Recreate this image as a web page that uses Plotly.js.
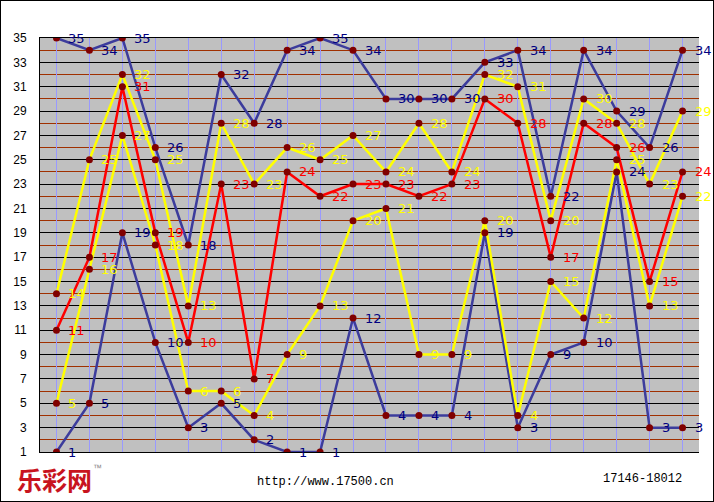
<!DOCTYPE html>
<html><head><meta charset="utf-8">
<script src="https://cdn.plot.ly/plotly-3.0.1.min.js"></script>
<style>
html,body{margin:0;padding:0;background:#fff;}
#wrap{position:absolute;left:0;top:0;width:714px;height:502px;box-sizing:border-box;border:1px solid #000;background:#fff;}
#chart{width:712px;height:500px;}
</style></head>
<body><div id="wrap"><div id="chart"></div></div>
<script>
// draw index (20 consecutive draws)
const draws = [1,2,3,4,5,6,7,8,9,10,11,12,13,14,15,16,17,18,19,20];
// sorted numbers per draw
const n1 = [1,5,19,10,3,5,2,1,1,12,4,4,4,19,3,9,10,24,3,3];          // lowest (blue)
const n2 = [5,16,27,18,6,6,4,9,13,20,21,9,9,20,4,15,12,25,13,22];      // 2nd (yellow)
const n3 = [11,17,31,19,10,23,7,24,22,23,23,22,23,30,28,17,28,26,15,24]; // 3rd (red)
const n4 = [14,25,32,25,13,28,23,26,25,27,24,28,24,32,31,20,30,28,23,29]; // 4th (yellow)
const n5 = [35,34,35,26,18,32,28,34,35,34,30,30,30,33,34,22,34,29,26,34]; // highest (blue)
const yTicks = [1,3,5,7,9,11,13,15,17,19,21,23,25,27,29,31,33,35];
const siteText = "http://www.17500.cn";
const rangeText = "17146-18012";
const logoText = "乐彩网";

const series = [
  {y:n1, line:'#3c3c9c', w:2.5, label:'#000080'},
  {y:n5, line:'#3c3c9c', w:2.5, label:'#000080'},
  {y:n2, line:'#ffff00', w:2.5, label:'#ffff00'},
  {y:n4, line:'#ffff00', w:2.5, label:'#ffff00'},
  {y:n3, line:'#ff0000', w:2.5, label:'#ff0000'}
];

const traces = series.map(s => ({
  x: draws, y: s.y, type:'scatter', mode:'lines',
  line:{color:s.line, width:s.w}, hoverinfo:'skip', showlegend:false
}));
series.forEach(s => traces.push({
  x: draws, y: s.y, type:'scatter', mode:'markers',
  marker:{color:'#800000', size:7}, hoverinfo:'skip', showlegend:false
}));

const annotations = [];
series.forEach(s => {
  s.y.forEach((v,i) => annotations.push({
    x: draws[i], y: v, xref:'x', yref:'y', text: String(v), showarrow:false,
    xanchor:'left', yanchor:'middle', xshift:10, yshift:0,
    font:{family:'DejaVu Sans, Verdana, sans-serif', size:13, color:s.label}
  }));
});
const L=40, R=698, T=38, B=451;
const px = v => (v - L)/(R - L);
const py = v => (B - v)/(B - T);
annotations.push({xref:'paper', yref:'paper', x:px(54), y:py(478), text:'<b>'+logoText+'</b>', showarrow:false,
  xanchor:'center', yanchor:'middle', font:{family:'Noto Sans CJK SC, sans-serif', size:25, color:'#c8141e'}});
annotations.push({xref:'paper', yref:'paper', x:px(97), y:py(467), text:'™', showarrow:false,
  xanchor:'center', yanchor:'middle', font:{family:'Liberation Sans, Arial, sans-serif', size:9, color:'#888'}});
annotations.push({xref:'paper', yref:'paper', x:px(325), y:py(481), text:siteText, showarrow:false,
  xanchor:'center', yanchor:'middle', font:{family:'Liberation Mono, DejaVu Sans Mono, monospace', size:12, color:'#000'}});
annotations.push({xref:'paper', yref:'paper', x:px(642), y:py(478), text:rangeText, showarrow:false,
  xanchor:'center', yanchor:'middle', font:{family:'Liberation Mono, DejaVu Sans Mono, monospace', size:12, color:'#000'}});

const layout = {
  width:712, height:500,
  margin:{l:39, r:14, t:37, b:49, pad:0},
  paper_bgcolor:'#ffffff', plot_bgcolor:'#c0c0c0',
  showlegend:false,
  xaxis:{range:[0.5,20.5], tickmode:'array', tickvals:draws, showticklabels:false, ticks:'',
    showgrid:true, gridcolor:'#9999ff', gridwidth:1, zeroline:false,
    showline:true, mirror:true, linecolor:'#000', linewidth:1},
  yaxis:{range:[1,35], tickmode:'array', tickvals:yTicks, ticktext:yTicks.map(String), ticks:'',
    showgrid:true, gridcolor:'#000000', gridwidth:1, zeroline:false,
    showline:true, mirror:false, linecolor:'#000', linewidth:1,
    ticklabelstandoff:10,
    tickfont:{family:'Liberation Sans, Arial, sans-serif', size:12, color:'#000'},
    minor:{dtick:1, tick0:0, showgrid:true, gridcolor:'#a03000', gridwidth:1, ticks:''}},
  annotations: annotations
};
Plotly.newPlot('chart', traces, layout, {staticPlot:true, displayModeBar:false});
</script></body></html>
